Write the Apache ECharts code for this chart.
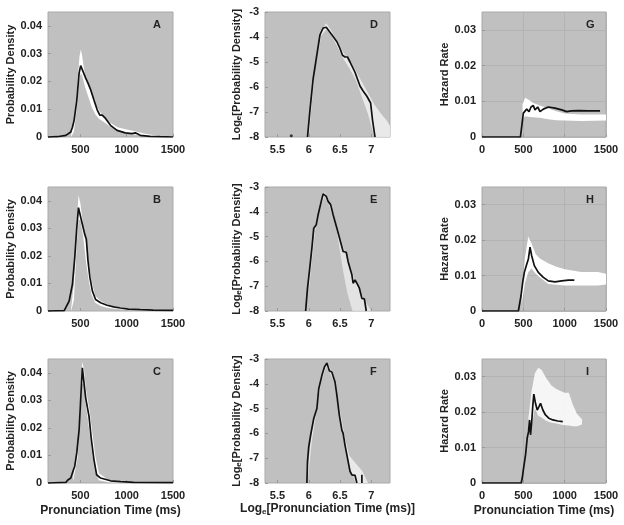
<!DOCTYPE html>
<html><head><meta charset="utf-8">
<script src="https://cdn.jsdelivr.net/npm/echarts@6/dist/echarts.min.js"></script>
<style>html,body{margin:0;padding:0;background:#fff}#c{width:624px;height:525px}</style>
</head><body><div id="c"></div>
<script>
// ---------- DATA ----------
// Panel A: probability density (observed) vs pronunciation time (ms)
const A_time = [150,250,343,361,396,414,432,461,486,503,521,557,582,611,646,682,710,736,771,825,896,985,1057,1093,1146,1253,1360,1500];
const A_obs  = [0,0.0001,0.0006,0.0010,0.0018,0.0035,0.006,0.0133,0.023,0.0257,0.0255,0.0212,0.0194,0.017,0.0133,0.0097,0.0079,0.0079,0.0067,0.0042,0.0024,0.0015,0.0012,0.0015,0.0006,0.0002,0.0001,0];
const A_simTime  = [400,430,460,490,505,520,550,580,620,660,700,760,820,900,1000,1100,1200,1300,1400,1500];
const A_simUpper = [0.001,0.006,0.016,0.029,0.0315,0.029,0.022,0.019,0.0155,0.012,0.0095,0.007,0.0052,0.0035,0.0027,0.002,0.0012,0.0006,0.0003,0.0002];
const A_simLower = [0,0.002,0.010,0.021,0.023,0.022,0.018,0.015,0.011,0.0082,0.0066,0.0052,0.0038,0.0024,0.0013,0.0008,0.0003,0.0001,0,0];

// Panel B
const B_time = [150,325,343,378,414,439,461,479,496,521,546,564,582,603,629,664,718,789,860,932,1021,1146,1285,1500];
const B_obs  = [0,0.0001,0.0006,0.0036,0.0097,0.0194,0.0303,0.0375,0.037,0.0315,0.0279,0.026,0.0182,0.0121,0.0073,0.0042,0.003,0.0021,0.0015,0.0011,0.0007,0.0005,0.0003,0.0002];
const B_simTime  = [400,430,460,480,500,530,560,590,620,660,720,800,900,1000,1200,1500];
const B_simUpper = [0.001,0.010,0.032,0.042,0.039,0.031,0.025,0.018,0.011,0.0055,0.0036,0.0023,0.0015,0.001,0.0005,0.0002];
const B_simLower = [0,0.004,0.024,0.033,0.033,0.027,0.018,0.011,0.006,0.003,0.0018,0.0011,0.0007,0.0004,0.0001,0];

// Panel C
const C_time = [150,343,361,396,425,439,461,486,503,521,539,557,575,593,618,646,675,718,825,932,1075,1500];
const C_obs  = [0,0.0002,0.001,0.0018,0.0048,0.0061,0.011,0.0194,0.0303,0.0418,0.0412,0.0309,0.0303,0.0242,0.0158,0.0085,0.003,0.0018,0.0008,0.0005,0.0002,0.0001];
const C_simTime  = [420,470,500,520,540,560,600,630,660,700,800,1000,1500];
const C_simUpper = [0.002,0.013,0.032,0.044,0.041,0.034,0.026,0.018,0.010,0.0035,0.0012,0.0004,0];
const C_simLower = [0.0005,0.009,0.027,0.036,0.036,0.028,0.018,0.010,0.004,0.001,0.0003,0,0];

// Panel D: log density vs log time
const D_logTime = [5.98,6.02,6.07,6.12,6.18,6.23,6.28,6.33,6.39,6.45,6.50,6.54,6.58,6.62,6.66,6.74,6.82,6.87,6.93,6.96,6.99,7.02,7.06];
const D_logObs  = [-8,-6.91,-5.68,-4.87,-3.91,-3.64,-3.61,-3.78,-3.98,-4.19,-4.46,-4.73,-4.80,-4.80,-5.00,-5.41,-5.96,-6.16,-6.37,-6.34,-6.64,-7.32,-8];
const D_isoTime = [5.72];
const D_isoObs  = [-7.95];
const D_simTime  = [6.0,6.1,6.2,6.28,6.35,6.45,6.55,6.65,6.75,6.85,6.95,7.05,7.15,7.25,7.3];
const D_simUpper = [-7.6,-5.0,-3.75,-3.45,-3.7,-4.15,-4.6,-4.95,-5.35,-5.8,-6.25,-6.7,-7.05,-7.35,-7.55];
const D_simLower = [-8,-5.3,-3.95,-3.7,-3.9,-4.35,-4.85,-5.25,-5.7,-6.4,-7.1,-8,-8,-8,-8];

// Panel E
const E_logTime = [5.95,5.98,6.01,6.05,6.08,6.12,6.15,6.20,6.23,6.28,6.31,6.35,6.39,6.45,6.50,6.55,6.60,6.63,6.66,6.69,6.71,6.74,6.77,6.81,6.85,6.89,6.90,6.92];
const E_logObs  = [-8,-7.08,-6.41,-5.47,-4.66,-4.52,-4.12,-3.58,-3.28,-3.38,-3.58,-3.71,-4.12,-4.66,-5.13,-5.60,-5.63,-6.01,-6.07,-6.54,-6.88,-6.75,-6.88,-7.08,-7.49,-7.51,-7.51,-8];
const E_simTime  = [6.0,6.1,6.2,6.25,6.32,6.4,6.45,6.5,6.55,6.62,6.7,6.8,6.9,7.0];
const E_simUpper = [-6.6,-4.6,-3.5,-3.2,-3.5,-4.1,-4.6,-5.0,-5.4,-5.9,-6.5,-7.1,-7.6,-8];
const E_simLower = [-7.2,-4.8,-3.7,-3.4,-3.7,-4.3,-4.8,-5.6,-6.4,-7.3,-8,-8,-8,-8];

// Panel F
const F_logTime = [5.97,5.98,6.00,6.03,6.08,6.13,6.16,6.21,6.25,6.29,6.33,6.37,6.42,6.45,6.49,6.53,6.55,6.58,6.62,6.66,6.69,6.74,6.77];
const F_logObs  = [-8,-7.13,-6.53,-6.07,-5.40,-5.00,-4.20,-3.67,-3.33,-3.16,-3.47,-3.53,-3.93,-4.47,-5.27,-5.87,-6.00,-6.47,-7.0,-7.53,-7.67,-7.69,-8];
const F_tailTime = [6.85,6.85];
const F_tailObs  = [-7.67,-8];
const F_simTime  = [5.98,6.05,6.1,6.2,6.28,6.33,6.4,6.5,6.58,6.65,6.75,6.85,6.95];
const F_simUpper = [-7.5,-5.9,-5.2,-3.7,-3.1,-3.3,-3.7,-5.1,-6.2,-6.9,-7.2,-7.5,-8];
const F_simLower = [-8,-6.3,-5.5,-3.9,-3.3,-3.5,-3.9,-5.4,-6.4,-7.3,-8,-8,-8];

// Panel G: hazard rate vs time
const G_time = [0,465,500,520,541,569,593,621,641,674,702,742,802,883,964,1025,1085,1165,1286,1428];
const G_obs  = [0,0,0.0067,0.0071,0.0078,0.0071,0.0084,0.0088,0.0076,0.0084,0.0071,0.0078,0.0084,0.0081,0.0076,0.0071,0.0073,0.0074,0.0073,0.0073];
const G_simTime  = [490,520,560,620,700,800,900,1000,1200,1500];
const G_simUpper = [0.009,0.011,0.0105,0.0095,0.0088,0.008,0.0072,0.0066,0.0063,0.0063];
const G_simLower = [0.005,0.0058,0.0057,0.0055,0.0054,0.005,0.0047,0.0046,0.0045,0.0046];

// Panel H
const H_time = [0,440,448,472,492,512,541,561,581,601,633,681,742,802,883,964,1044,1117];
const H_obs  = [0,0,0.0005,0.0043,0.008,0.0109,0.0132,0.0147,0.018,0.0156,0.0128,0.0109,0.0095,0.0085,0.0082,0.0085,0.0087,0.0087];
const H_simTime  = [480,520,560,600,650,700,800,900,1000,1200,1400,1500];
const H_simUpper = [0.005,0.015,0.021,0.019,0.016,0.0148,0.0135,0.0125,0.0118,0.011,0.011,0.0105];
const H_simLower = [0.002,0.008,0.011,0.012,0.0105,0.0095,0.0076,0.0074,0.0072,0.0072,0.0072,0.0075];

// Panel I
const I_time = [0,474,487,503,527,547,563,575,587,603,615,627,647,668,688,708,736,768,808,857,917,977];
const I_obs  = [0,0,0.0014,0.0042,0.008,0.0127,0.0145,0.0178,0.0136,0.0178,0.022,0.0251,0.0225,0.0206,0.0215,0.0225,0.0206,0.0192,0.0183,0.0178,0.0175,0.0173];
const I_simTime  = [560,600,640,680,720,780,840,900,950,1000,1050,1100,1150,1210];
const I_simUpper = [0.018,0.026,0.031,0.0325,0.032,0.0295,0.0275,0.0265,0.026,0.0255,0.0255,0.022,0.0195,0.018];
const I_simLower = [0.013,0.016,0.021,0.019,0.0185,0.0175,0.017,0.0168,0.0165,0.0163,0.0162,0.016,0.016,0.0165];

// Tick labels
const densityTicks = [0,0.01,0.02,0.03,0.04];
const hazardTicks = [0,0.01,0.02,0.03];
const logDensityTicks = [-8,-7,-6,-5,-4,-3];
const timeTicksDensity = [500,1000,1500];
const timeTicksHazard = [0,500,1000,1500];
const logTimeTicks = [5.5,6,6.5,7];
const panelLetters = ['A','B','C','D','E','F','G','H','I'];

// ---------- LAYOUT / STYLE ----------
const FONT = '"Liberation Sans", Arial, Helvetica, sans-serif';
const TXT = '#222222';
const cols = [{left:48,width:125},{left:265,width:125},{left:482,width:124}];
const rows = [{top:12,height:125},{top:187,height:124},{top:359,height:124}];

const panels = [
  {x:A_time,y:A_obs,sx:A_simTime,su:A_simUpper,sl:A_simLower,op:1},
  {x:B_time,y:B_obs,sx:B_simTime,su:B_simUpper,sl:B_simLower,op:1},
  {x:C_time,y:C_obs,sx:C_simTime,su:C_simUpper,sl:C_simLower,op:1},
  {x:D_logTime,y:D_logObs,sx:D_simTime,su:D_simUpper,sl:D_simLower,op:0.65,iso:[D_isoTime,D_isoObs]},
  {x:E_logTime,y:E_logObs,sx:E_simTime,su:E_simUpper,sl:E_simLower,op:0.55},
  {x:F_logTime,y:F_logObs,sx:F_simTime,su:F_simUpper,sl:F_simLower,op:0.65,tail:[F_tailTime,F_tailObs]},
  {x:G_time,y:G_obs,sx:G_simTime,su:G_simUpper,sl:G_simLower,op:1},
  {x:H_time,y:H_obs,sx:H_simTime,su:H_simUpper,sl:H_simLower,op:1},
  {x:I_time,y:I_obs,sx:I_simTime,su:I_simUpper,sl:I_simLower,op:0.85}
];

const zip = (a,b) => a.map((v,i)=>[v,b[i]]);
const plain = v => String(v);
const labelStyle = {fontFamily:FONT,fontWeight:'bold',fontSize:11,color:TXT};
const richName = (size, pad) => ({
  a:{fontFamily:FONT,fontWeight:'bold',fontSize:size,color:TXT},
  s:{fontFamily:FONT,fontWeight:'bold',fontSize:8,color:TXT,padding:[pad,0,0,0]}
});

const grid=[],xAxis=[],yAxis=[],series=[],title=[];
for (let k=0;k<9;k++){
  const c=Math.floor(k/3), r=k%3;
  const g={left:cols[c].left,width:cols[c].width,top:rows[r].top,height:rows[r].height,
    show:true,backgroundColor:'#c0c0c0',borderColor:'#a9a9a9',borderWidth:1,containLabel:false};
  grid.push(g);
  const xa={type:'value',gridIndex:k,axisLine:{show:false},
    axisTick:{show:true,inside:true,length:3,lineStyle:{color:'#9a9a9a'}},
    axisLabel:Object.assign({margin:7,formatter:plain},labelStyle),splitLine:{show:false}};
  const ya={type:'value',gridIndex:k,axisLine:{show:false},
    axisTick:{show:true,inside:true,length:3,lineStyle:{color:'#9a9a9a'}},
    axisLabel:Object.assign({margin:6,formatter:plain},labelStyle),splitLine:{show:false},
    nameLocation:'middle',nameRotate:90};
  if (c===0){
    xa.min=150; xa.max=1500;
    xa.axisLabel.customValues=timeTicksDensity; xa.axisTick.customValues=timeTicksDensity;
    ya.min=0; ya.max=0.045;
    ya.axisLabel.customValues=densityTicks; ya.axisTick.customValues=densityTicks;
    ya.name='Probability Density'; ya.nameGap=30; ya.nameTextStyle=labelStyle;
    if (r===2){ xa.name='Pronunciation Time (ms)'; xa.nameLocation='middle'; xa.nameGap=22;
      xa.nameTextStyle={fontFamily:FONT,fontWeight:'bold',fontSize:12,color:TXT}; }
  } else if (c===1){
    xa.min=5.3; xa.max=7.3;
    xa.axisLabel.customValues=logTimeTicks; xa.axisTick.customValues=logTimeTicks;
    ya.min=-8; ya.max=-3; ya.interval=1;
    ya.axisLabel.customValues=logDensityTicks; ya.axisTick.customValues=logDensityTicks;
    ya.name='{a|Log}{s|e}{a|[Probability Density]}'; ya.nameGap=22;
    ya.nameTextStyle={rich:richName(11,5)};
    if (r===2){ xa.name='{a|Log}{s|e}{a|[Pronunciation Time (ms)]}'; xa.nameLocation='middle'; xa.nameGap=19;
      xa.nameTextStyle={rich:richName(12,6)}; }
  } else {
    xa.min=0; xa.max=1500; xa.interval=500;
    xa.axisLabel.customValues=timeTicksHazard; xa.axisTick.customValues=timeTicksHazard;
    xa.splitLine={show:true,lineStyle:{color:'#b3b3b3',width:1}};
    ya.min=0; ya.max=0.035; ya.interval=0.01;
    ya.axisLabel.customValues=hazardTicks; ya.axisTick.customValues=hazardTicks;
    ya.splitLine={show:true,lineStyle:{color:'#b3b3b3',width:1}};
    ya.name='Hazard Rate'; ya.nameGap=31; ya.nameTextStyle=labelStyle;
    if (r===2){ xa.name='Pronunciation Time (ms)'; xa.nameLocation='middle'; xa.nameGap=22;
      xa.nameTextStyle={fontFamily:FONT,fontWeight:'bold',fontSize:12,color:TXT}; }
  }
  xAxis.push(xa); yAxis.push(ya);

  const p=panels[k];
  // simulated predictions: white band
  series.push({type:'custom',xAxisIndex:k,yAxisIndex:k,coordinateSystem:'cartesian2d',clip:true,silent:true,z:1,
    data:[[p.sx[0],p.sl[0]]],
    renderItem:(params,api)=>{
      const pts=[];
      for(let i=0;i<p.sx.length;i++) pts.push(api.coord([p.sx[i],p.su[i]]));
      for(let i=p.sx.length-1;i>=0;i--) pts.push(api.coord([p.sx[i],p.sl[i]]));
      return {type:'polygon',shape:{points:pts},style:{fill:'#ffffff',opacity:p.op}};
    }});
  // observed: black line
  series.push({type:'line',xAxisIndex:k,yAxisIndex:k,data:zip(p.x,p.y),showSymbol:false,symbol:'none',
    clip:true,silent:true,z:3,lineStyle:{color:'#111111',width:1.7},animation:false});
  if (p.tail) series.push({type:'line',xAxisIndex:k,yAxisIndex:k,data:zip(p.tail[0],p.tail[1]),symbol:'none',
    clip:true,silent:true,z:3,lineStyle:{color:'#111111',width:1.7},animation:false});
  if (p.iso) series.push({type:'scatter',xAxisIndex:k,yAxisIndex:k,data:zip(p.iso[0],p.iso[1]),symbolSize:3,
    itemStyle:{color:'#111111'},silent:true,z:3,animation:false});

  title.push({text:panelLetters[k],left:g.left+g.width-20,top:g.top+7,padding:0,
    textStyle:{fontFamily:FONT,fontWeight:'bold',fontSize:11,color:'#222'}});
}

const chart = echarts.init(document.getElementById('c'), null, {renderer:'canvas'});
chart.setOption({animation:false,backgroundColor:'#ffffff',title,grid,xAxis,yAxis,series});
</script></body></html>
